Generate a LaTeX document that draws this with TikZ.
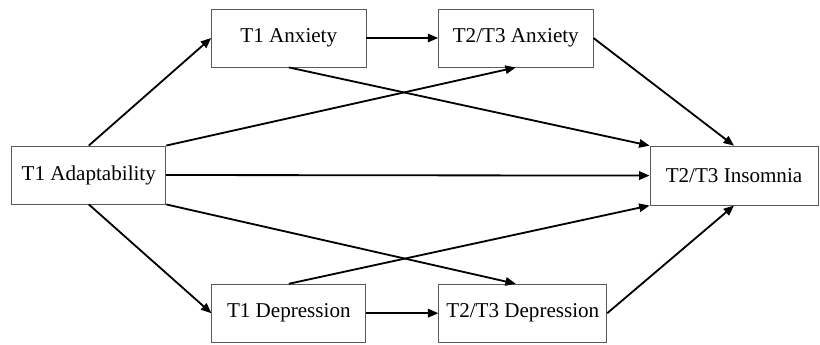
\documentclass[tikz,border=0pt]{standalone}
\usepackage{fontspec}
\setmainfont{Liberation Serif}
\usetikzlibrary{positioning,arrows.meta}
\tikzset{
    >={Triangle[length=2.6mm, width=2.1mm]},
    var/.style={rectangle, draw=black!65, line width=0.6pt, align=center, minimum height=1.45cm, inner sep=2pt, font=\fontsize{15}{18}\selectfont},
    path/.style={->, line width=1.3pt, black}
}

\begin{document}
\begin{tikzpicture}
    \useasboundingbox (0,0) rectangle (20.5,8.6);

    \node[var, minimum width=3.85cm] (adapt) at (2.22,4.225) {T1 Adaptability};

    \node[var, minimum width=3.86cm] (anx1) at (7.22,7.65) {T1 Anxiety};
    \node[var, minimum width=3.86cm] (anx23) at (12.895,7.65) {T2/T3 Anxiety};

    \node[var, minimum width=3.85cm] (dep1) at (7.22,0.77) {T1 Depression};
    \node[var, minimum width=4.2cm] (dep23) at (13.07,0.77) {T2/T3 Depression};

    \node[var, minimum width=4.2cm, minimum height=1.475cm] (ins) at (18.35,4.21) {T2/T3 Insomnia};

    \path[path] (adapt.north) edge (anx1.west)
          (adapt.south) edge (dep1.west)
          (anx1.east) edge (anx23.west)
          (dep1.east) edge (dep23.west)
          (adapt.north east) edge (anx23.south)
          (adapt.south east) edge (anx23.south |- dep23.north)
          (anx1.south) edge (ins.north west)
          (dep1.north) edge (ins.south west)
          (adapt.east) edge (ins.west)
          (anx23.east) edge (ins.north)
          (dep23.east) edge (ins.south);
\end{tikzpicture}
\end{document}
